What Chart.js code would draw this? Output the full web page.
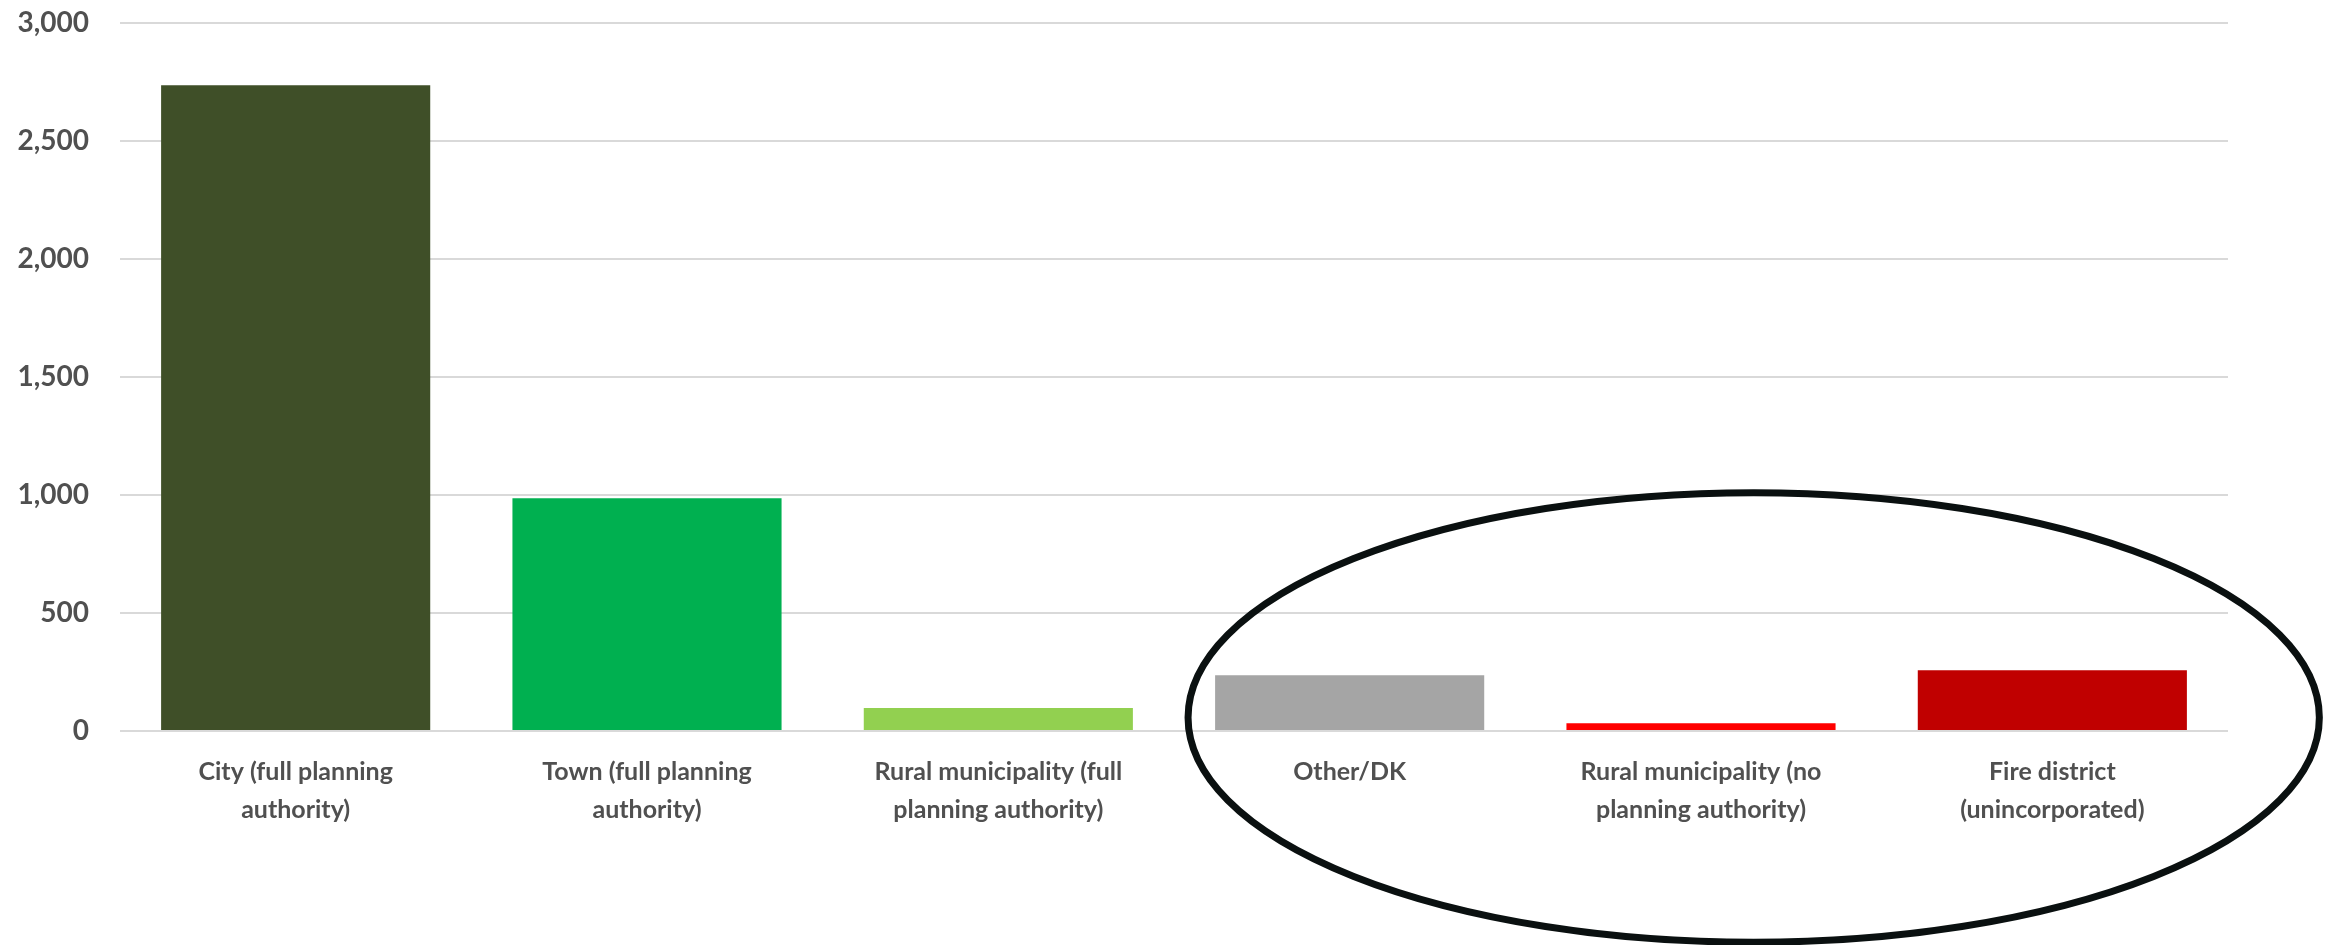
<!DOCTYPE html>
<html>
<head>
<meta charset="utf-8">
<script src="https://cdn.jsdelivr.net/npm/chart.js@4"></script>
<style>
  html, body { margin: 0; padding: 0; background: #fff; }
  #wrap { width: 2326px; height: 945px; position: relative; }
</style>
</head>
<body>
<div id="wrap"><canvas id="grafico"></canvas></div>
<script>
const categorias = [
  ["City (full planning", "authority)"],
  ["Town (full planning", "authority)"],
  ["Rural municipality (full", "planning authority)"],
  ["Other/DK"],
  ["Rural municipality (no", "planning authority)"],
  ["Fire district", "(unincorporated)"]
];
const valores = [2736, 986, 97, 236, 33, 257];
const colores = ["#3F4F28", "#00B050", "#92D050", "#A5A5A5", "#FF0000", "#C00000"];
const ticksY = [0, 500, 1000, 1500, 2000, 2500, 3000];

// elipse que marca los tres últimos grupos
const elipse = {
  id: "elipse",
  afterDraw(chart) {
    const x = chart.scales.x;
    const y = chart.scales.y;
    const x0 = x.getPixelForValue(2.54);
    const x1 = x.getPixelForValue(5.76);
    const y0 = y.getPixelForValue(1010);
    const y1 = y.getPixelForValue(-895);
    const ctx = chart.ctx;
    ctx.save();
    ctx.beginPath();
    ctx.ellipse((x0 + x1) / 2, (y0 + y1) / 2, (x1 - x0) / 2, (y1 - y0) / 2, 0, 0, Math.PI * 2);
    ctx.lineWidth = 7;
    ctx.strokeStyle = "#0a1010";
    ctx.stroke();
    ctx.restore();
  }
};

const ctx = document.getElementById("grafico").getContext("2d");

new Chart(ctx, {
  type: "bar",
  data: {
    labels: categorias,
    datasets: [{
      data: valores,
      backgroundColor: colores,
      barPercentage: 0.766,
      categoryPercentage: 1
    }]
  },
  options: {
    responsive: true,
    maintainAspectRatio: false,
    animation: false,
    layout: { padding: { top: 0, right: 98, left: 0, bottom: 0 } },
    plugins: {
      legend: { display: false },
      tooltip: { enabled: false }
    },
    scales: {
      x: {
        grid: { display: false, drawTicks: false },
        border: { display: false },
        ticks: {
          color: "#505050",
          font: { family: "Lato", size: 25, weight: "bold", lineHeight: 1.52 },
          padding: 22,
          maxRotation: 0,
          autoSkip: false
        },
        afterFit(scale) {
          scale.height = 214;
          scale.paddingTop = 0;
          scale.paddingBottom = 0;
        }
      },
      y: {
        min: 0,
        max: 3000,
        afterBuildTicks(scale) {
          scale.ticks = ticksY.map(v => ({ value: v }));
        },
        grid: { color: "#d9d9d9", lineWidth: 2, drawTicks: false },
        border: { display: false },
        ticks: {
          color: "#505050",
          font: { family: "Lato", size: 28, weight: "bold" },
          padding: 31
        },
        afterFit(scale) {
          scale.width = 120;
          scale.paddingTop = 23;
          scale.paddingBottom = 0;
        }
      }
    }
  },
  plugins: [elipse]
});
</script>
</body>
</html>
